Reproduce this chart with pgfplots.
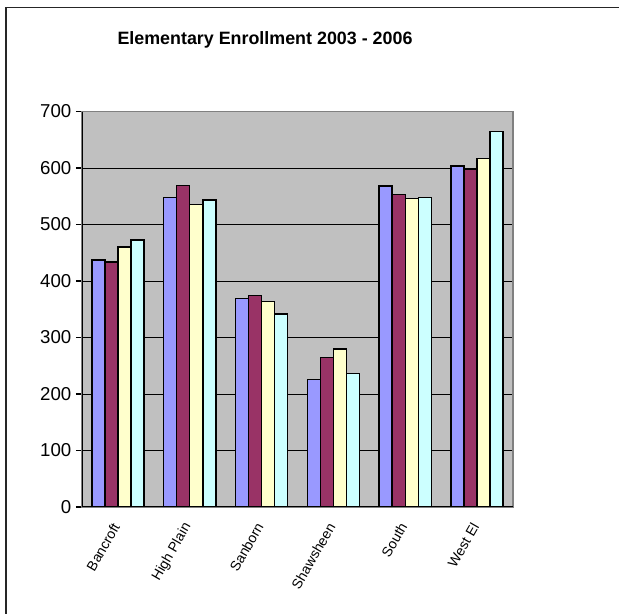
\documentclass[border=0pt]{standalone}
\usepackage{pgfplots}
\pgfplotsset{compat=1.18}
\usepackage{pgfplotstable}
\usepackage{fontspec}
\setmainfont{Liberation Sans}
\definecolor{sA}{HTML}{9999FF}
\definecolor{sB}{HTML}{993366}
\definecolor{sC}{HTML}{FFFFCC}
\definecolor{sD}{HTML}{CCFFFF}
\definecolor{plotbg}{HTML}{C0C0C0}
\pgfplotstableread{
x a b c d
0 437 434 460 473
1 548 569 535 543
2 369 374 364 342
3 226 265 280 236
4 568 553 546 548
5 604 598 617 665
}\enroll
\begin{document}
\begin{tikzpicture}
\path[use as bounding box] (0pt,0pt) rectangle (464.25pt,460.5pt);
\draw[line width=1.2pt, black!85] (4.5pt,0pt) -- (4.5pt,454.9pt) -- (464.25pt,454.9pt);
\node[anchor=base, font=\bfseries\fontsize{13.4}{16}\selectfont] at (198.75pt,427.0pt) {Elementary Enrollment 2003 - 2006};
\begin{axis}[
  at={(61.5pt,80.25pt)}, anchor=south west,
  scale only axis, width=323.25pt, height=296.6pt,
  xmin=-0.5, xmax=5.5, ymin=0, ymax=700,
  tick pos=left,
  ytick={0,100,...,700},
  xtick={0,...,5},
  xticklabels={Bancroft,High Plain,Sanborn,Shawsheen,South,West El},
  x tick style={draw=none},
  extra x ticks={-0.5,0.5,...,5.5},
  extra x tick labels={},
  extra x tick style={grid=none, major tick length=4pt, tick style={black, line width=0.8pt, draw=black}},
  tick align=outside,
  major tick length=4.5pt,
  y tick style={black, line width=0.8pt},
  ymajorgrids,
  grid style={black, line width=0.7pt},
  axis background/.style={fill=plotbg},
  axis line style={draw=gray, line width=1pt},
  /pgf/number format/assume math mode=true,
  yticklabel style={font=\fontsize{14}{16}\selectfont},
  xticklabel style={font=\fontsize{10.5}{12}\selectfont, xshift=-0.75pt, yshift=-7.5pt, rotate=60, anchor=east, inner sep=1pt},
  ybar, bar width=0.182,
  every axis plot/.append style={draw=black, line width=1.1pt},
]
\addplot[fill=sA, bar shift=-0.273] table[x=x,y=a] {\enroll};
\addplot[fill=sB, bar shift=-0.091] table[x=x,y=b] {\enroll};
\addplot[fill=sC, bar shift=0.091] table[x=x,y=c] {\enroll};
\addplot[fill=sD, bar shift=0.273] table[x=x,y=d] {\enroll};
\draw[black, line width=0.8pt] (rel axis cs:0,1) -- (rel axis cs:0,0);
\draw[black, line width=1.3pt] (rel axis cs:0,0) -- (rel axis cs:1,0);
\end{axis}
\end{tikzpicture}
\end{document}
